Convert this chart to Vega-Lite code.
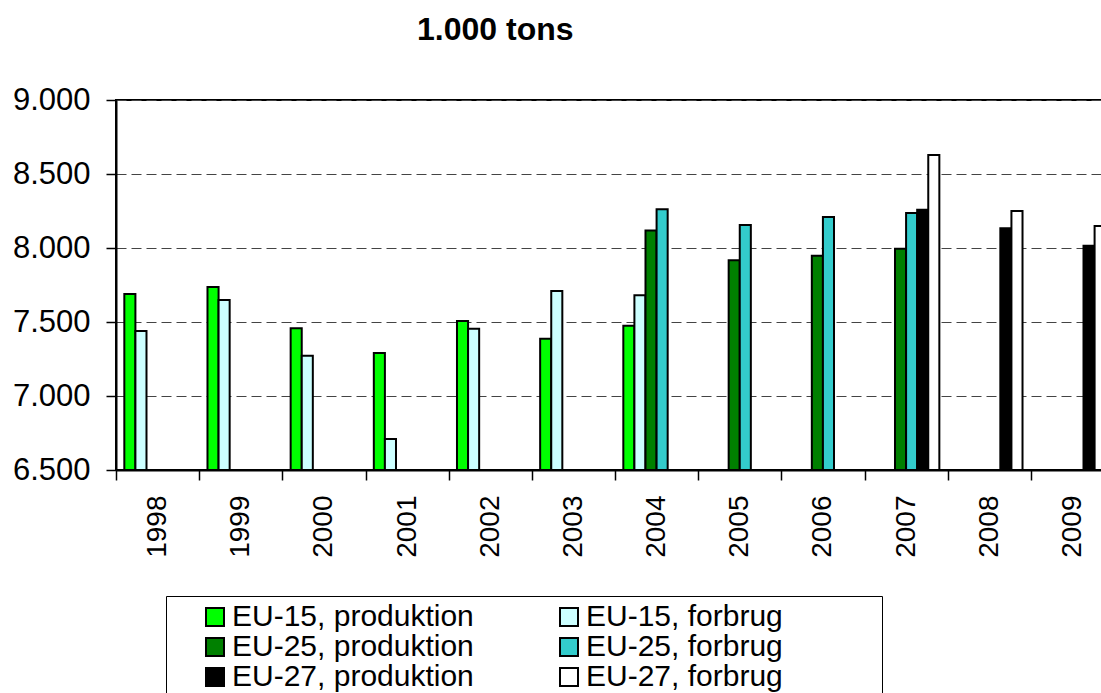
{
  "$schema": "https://vega.github.io/schema/vega-lite/v6.json",
  "width": 998,
  "height": 370,
  "autosize": {"type": "none"},
  "padding": {"left": 116, "top": 100, "right": 0, "bottom": 223},
  "background": "white",
  "config": {
    "font": "Liberation Sans",
    "view": {"stroke": "black", "strokeWidth": 2},
    "axis": {"labelFont": "Liberation Sans", "labelColor": "black"}
  },
  "title": {
    "text": "1.000 tons",
    "anchor": "start",
    "frame": "group",
    "dx": 301,
    "fontSize": 32,
    "fontWeight": "bold",
    "font": "Liberation Sans",
    "color": "black",
    "offset": 37
  },
  "data": {
    "values": [
      {"year": "1998", "series": "EU-15, produktion", "value": 7690},
      {"year": "1998", "series": "EU-15, forbrug", "value": 7440},
      {"year": "1999", "series": "EU-15, produktion", "value": 7736},
      {"year": "1999", "series": "EU-15, forbrug", "value": 7649},
      {"year": "2000", "series": "EU-15, produktion", "value": 7457},
      {"year": "2000", "series": "EU-15, forbrug", "value": 7272},
      {"year": "2001", "series": "EU-15, produktion", "value": 7291},
      {"year": "2001", "series": "EU-15, forbrug", "value": 6709},
      {"year": "2002", "series": "EU-15, produktion", "value": 7507},
      {"year": "2002", "series": "EU-15, forbrug", "value": 7455},
      {"year": "2003", "series": "EU-15, produktion", "value": 7387},
      {"year": "2003", "series": "EU-15, forbrug", "value": 7709},
      {"year": "2004", "series": "EU-15, produktion", "value": 7475},
      {"year": "2004", "series": "EU-15, forbrug", "value": 7680},
      {"year": "2004", "series": "EU-25, produktion", "value": 8119},
      {"year": "2004", "series": "EU-25, forbrug", "value": 8261},
      {"year": "2005", "series": "EU-25, produktion", "value": 7917},
      {"year": "2005", "series": "EU-25, forbrug", "value": 8155},
      {"year": "2006", "series": "EU-25, produktion", "value": 7948},
      {"year": "2006", "series": "EU-25, forbrug", "value": 8209},
      {"year": "2007", "series": "EU-25, produktion", "value": 7995},
      {"year": "2007", "series": "EU-25, forbrug", "value": 8236},
      {"year": "2007", "series": "EU-27, produktion", "value": 8259},
      {"year": "2007", "series": "EU-27, forbrug", "value": 8628},
      {"year": "2008", "series": "EU-27, produktion", "value": 8133},
      {"year": "2008", "series": "EU-27, forbrug", "value": 8250},
      {"year": "2009", "series": "EU-27, produktion", "value": 8016},
      {"year": "2009", "series": "EU-27, forbrug", "value": 8149}
    ]
  },
  "mark": {"type": "bar", "stroke": "black", "strokeWidth": 2},
  "encoding": {
    "x": {
      "field": "year",
      "type": "nominal",
      "scale": {
        "domain": ["1998","1999","2000","2001","2002","2003","2004","2005","2006","2007","2008","2009"],
        "paddingInner": 0,
        "paddingOuter": 0
      },
      "axis": {
        "title": null,
        "labelAngle": 270,
        "labelFontSize": 28,
        "labelPadding": 15,
        "tickBand": "extent",
        "tickSize": 10,
        "tickColor": "black",
        "tickWidth": 1.5,
        "domainColor": "black",
        "domainWidth": 2
      }
    },
    "xOffset": {
      "field": "series",
      "type": "nominal",
      "scale": {
        "domain": ["EU-15, produktion","EU-15, forbrug","EU-25, produktion","EU-25, forbrug","EU-27, produktion","EU-27, forbrug"],
        "paddingInner": 0,
        "paddingOuter": 0.75
      }
    },
    "y": {
      "field": "value",
      "type": "quantitative",
      "scale": {"domain": [6500, 9000], "zero": false, "nice": false},
      "axis": {
        "title": null,
        "values": [6500, 7000, 7500, 8000, 8500, 9000],
        "labelExpr": "replace(format(datum.value, ','), ',', '.')",
        "labelFontSize": 31,
        "labelPadding": 16,
        "tickSize": 10,
        "tickColor": "black",
        "tickWidth": 1.5,
        "domainColor": "black",
        "domainWidth": 2,
        "grid": true,
        "gridColor": "#444444",
        "gridDash": [10, 5],
        "gridWidth": 1
      }
    },
    "y2": {"datum": 6500},
    "color": {
      "field": "series",
      "type": "nominal",
      "scale": {
        "domain": ["EU-15, produktion","EU-15, forbrug","EU-25, produktion","EU-25, forbrug","EU-27, produktion","EU-27, forbrug"],
        "range": ["#00FF00","#CCFFFF","#008000","#33CCCC","#000000","#FFFFFF"]
      },
      "legend": {
        "title": "\u00a0",
        "titleOrient": "right",
        "titlePadding": 93,
        "titleFontSize": 10,
        "orient": "none",
        "legendX": 50,
        "legendY": 496,
        "columns": 2,
        "direction": "horizontal",
        "padding": 6,
        "symbolOffset": 28,
        "symbolType": "square",
        "symbolSize": 324,
        "symbolStrokeColor": "black",
        "symbolStrokeWidth": 2,
        "labelFont": "Liberation Sans",
        "labelFontSize": 30,
        "labelColor": "black",
        "labelOffset": 2,
        "labelLimit": 600,
        "columnPadding": 52,
        "rowPadding": 0,
        "strokeColor": "black"
      }
    }
  }
}
